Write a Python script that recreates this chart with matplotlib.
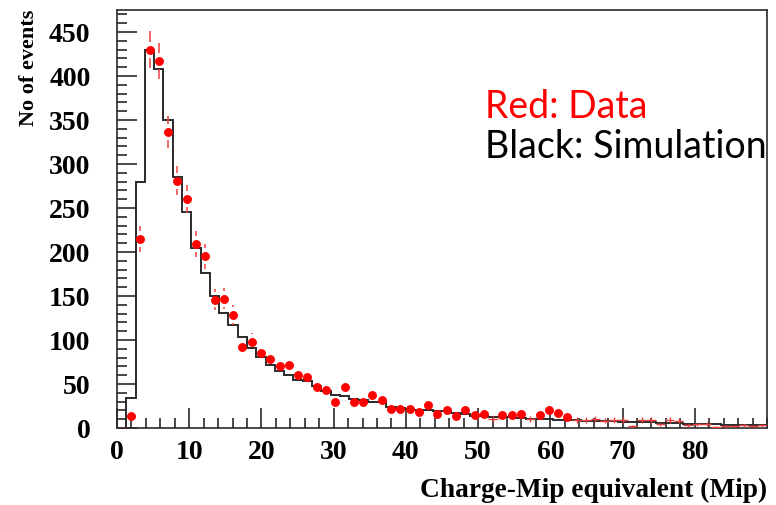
import numpy as np
import matplotlib
matplotlib.use("Agg")
import matplotlib.pyplot as plt
from matplotlib.ticker import MultipleLocator

# 70 bins spanning 0-90 Mip
bin_edges = np.linspace(0, 90, 71)

# Simulated spectrum (counts per bin)
sim_counts = [
    0, 34, 280, 429, 408, 350, 285, 246, 204, 176,
    150, 131, 117, 103, 91, 81, 72, 65, 60, 55,
    53, 48, 42, 38, 36, 33, 32, 30, 29, 24,
    23, 22, 21, 20, 19, 19, 17, 16, 14, 14,
    12, 12, 12, 11, 10, 10, 10, 9, 9, 9,
    8, 8, 8, 8, 7, 7, 7, 7, 6, 6,
    6, 5, 5, 4, 4, 3, 3, 3, 3, 3,
]

# Measured spectrum (counts per bin)
data_counts = [
    0, 14, 215, 430, 417, 336, 281, 260, 209, 195,
    146, 147, 128, 92, 98, 85, 78, 71, 72, 60,
    58, 47, 43, 30, 47, 30, 30, 37, 32, 22,
    22, 22, 18, 26, 16, 20, 14, 20, 15, 16,
    10, 15, 15, 16, 10, 15, 20, 17, 12, 9,
    9, 10, 8, 9, 9, 2, 9, 9, 4, 9,
    8, 3, 4, 5, 1, 2, 2, 3, 2, 3,
]

x_ticks = [0, 10, 20, 30, 40, 50, 60, 70, 80]
y_ticks = [0, 50, 100, 150, 200, 250, 300, 350, 400, 450]

RED = "#ff0000"
ERR_RED = "#f04040"
LINE = "#2a2a2a"
SERIF = ["Liberation Serif", "DejaVu Serif"]

fig = plt.figure(figsize=(7.76, 5.06), dpi=100)
ax = fig.add_axes([117 / 776, 1 - 429 / 506, 650 / 776, 418 / 506])

centers = 0.5 * (bin_edges[:-1] + bin_edges[1:])
half_w = 0.5 * (bin_edges[1] - bin_edges[0])
data = np.asarray(data_counts, dtype=float)
err = np.sqrt(data)

# simulation histogram
ax.stairs(sim_counts, bin_edges, color=LINE, lw=1.4, zorder=2)

# data: markers with error bars that leave a gap around the marker
gap = 9.0
big = data >= 11
for c, n, e in zip(centers[big], data[big], err[big]):
    if e > gap:
        ax.vlines([c, c], [n + gap, n - e], [n + e, n - gap],
                  color=ERR_RED, lw=1.1, zorder=3)
ax.plot(centers[big], data[big], "o", color=RED, ms=5.4, mec=RED, zorder=4)

# low-count bins drawn as plain crosses
small = ~big
ax.hlines(data[small], centers[small] - half_w, centers[small] + half_w,
          color=ERR_RED, lw=1.0, zorder=3)
ax.vlines(centers[small], data[small] - err[small], data[small] + err[small],
          color=ERR_RED, lw=1.0, zorder=3)

ax.set_xlim(0, 90)
ax.set_ylim(0, 475)
ax.set_xticks(x_ticks)
ax.set_yticks(y_ticks)
ax.xaxis.set_minor_locator(MultipleLocator(2))
ax.yaxis.set_minor_locator(MultipleLocator(10))
ax.tick_params(which="both", direction="in", top=False, right=False,
               color=LINE, width=1.2)
ax.tick_params(which="major", length=14.5)
ax.tick_params(which="minor", length=7.2)
ax.tick_params(axis="y", which="major", pad=19)
ax.tick_params(axis="x", which="major", pad=8)
for lab in ax.get_xticklabels() + ax.get_yticklabels():
    lab.set_fontfamily(SERIF)
    lab.set_fontweight("bold")
    lab.set_fontsize(20)

for sp in ax.spines.values():
    sp.set_color(LINE)
    sp.set_linewidth(1.2)

ax.set_xlabel("Charge-Mip equivalent (Mip)", fontfamily=SERIF,
              fontweight="bold", fontsize=19.7, ha="right", va="center")
ax.xaxis.set_label_coords(1.0, (429 - 490) / 418)
ax.set_ylabel("No of events", fontfamily=SERIF, fontweight="bold",
              fontsize=16, ha="right", va="center")
ax.yaxis.set_label_coords((29 - 117) / 650, (429 - 10) / 418)

# key written in plain text
fig.text(485 / 776, 1 - 118 / 506, "Red: Data", color=RED,
         fontfamily="Lato", fontsize=27, ha="left", va="baseline")
fig.text(485 / 776, 1 - 158 / 506, "Black: Simulation", color="black",
         fontfamily="Lato", fontsize=27, ha="left", va="baseline")

fig.savefig("out.png", dpi=100)
